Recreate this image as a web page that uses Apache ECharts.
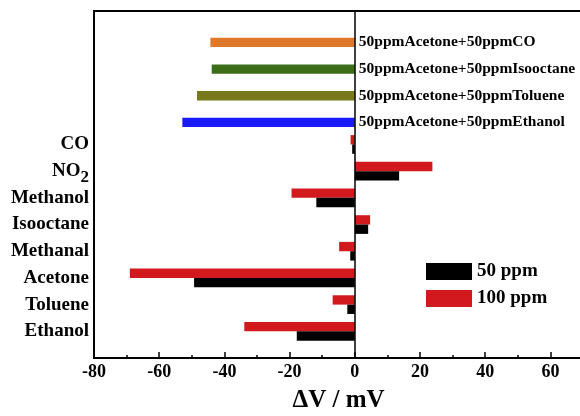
<!DOCTYPE html>
<html>
<head>
<meta charset="utf-8">
<script src="https://cdn.jsdelivr.net/npm/echarts@6/dist/echarts.min.js"></script>
<style>html,body{margin:0;padding:0;background:#fff}#c{width:580px;height:416px}</style>
</head>
<body>
<div id="c"></div>
<script>
// gases, bottom to top
const gases = ['Ethanol', 'Toluene', 'Acetone', 'Methanal', 'Isooctane', 'Methanol', 'NO2', 'CO'];
const ppm50 = [-17.8, -2.3, -49.3, -1.4, 4.1, -11.8, 13.6, -0.8];
const ppm100 = [-33.9, -6.8, -69, -4.8, 4.7, -19.4, 23.8, -1.3];
// mixtures, bottom to top
const mixtures = ['50ppmAcetone+50ppmEthanol', '50ppmAcetone+50ppmToluene', '50ppmAcetone+50ppmIsooctane', '50ppmAcetone+50ppmCO'];
const mixValues = [-52.9, -48.4, -43.9, -44.3];
const mixColors = ['#1a1afa', '#78781c', '#3c6e19', '#e0782a'];
const majorTicks = [-80, -60, -40, -20, 0, 20, 40, 60];
const minorTicks = [-70, -50, -30, -10, 10, 30, 50];

const categories = ['padBottom'].concat(gases, mixtures, ['padTop']);
const nG = gases.length;
const blankMix = mixtures.map(() => null);
const s50 = [null].concat(ppm50, blankMix, [null]);
const s100 = [null].concat(ppm100, blankMix, [null]);
const sMix = [null].concat(gases.map(() => null),
  mixValues.map((v, i) => ({ value: v, itemStyle: { color: mixColors[i] } })), [null]);

const serif = '"Liberation Serif", "Times New Roman", serif';
const chart = echarts.init(document.getElementById('c'));
chart.setOption({
  animation: false,
  backgroundColor: '#fff',
  grid: { left: 94, top: 11, right: -3, bottom: 58, outerBoundsMode: 'none', containLabel: false, show: true, borderColor: '#000', borderWidth: 2, backgroundColor: 'transparent' },
  legend: {
    data: ['50 ppm', '100 ppm'], orient: 'vertical', left: 426, top: 262, padding: 0,
    itemWidth: 46, itemHeight: 17, itemGap: 8, icon: 'rect',
    textStyle: { fontFamily: serif, fontWeight: 'bold', fontSize: 19, color: '#000' }
  },
  xAxis: [{
    type: 'value', min: -80, max: 70, position: 'bottom',
    name: 'ΔV / mV', nameLocation: 'middle', nameGap: 30,
    nameTextStyle: { fontFamily: serif, fontWeight: 'bold', fontSize: 25, color: '#000' },
    axisLine: { show: true, onZero: false, lineStyle: { color: '#000', width: 2 } },
    axisTick: { show: true, inside: true, length: 6, customValues: majorTicks, lineStyle: { color: '#000', width: 1.5 } },
    axisLabel: { customValues: majorTicks, margin: 5, fontFamily: serif, fontWeight: 'bold', fontSize: 18, color: '#000' },
    splitLine: { show: false }
  }, {
    type: 'value', min: -80, max: 70, position: 'bottom',
    axisLine: { show: false },
    axisTick: { show: true, inside: true, length: 3, customValues: minorTicks, lineStyle: { color: '#000', width: 1.5 } },
    axisLabel: { show: false },
    splitLine: { show: false }
  }],
  yAxis: {
    type: 'category', data: categories, boundaryGap: false,
    axisLine: { show: false }, axisTick: { show: false }, splitLine: { show: false },
    axisLabel: {
      interval: 0, margin: 5, fontFamily: serif, fontWeight: 'bold', fontSize: 19, color: '#000',
      formatter: function (v) {
        if (gases.indexOf(v) < 0) return '';
        if (v === 'NO2') return 'NO{sub|2}';
        return v;
      },
      rich: { sub: { fontFamily: serif, fontWeight: 'bold', fontSize: 17, color: '#000', padding: [12, 0, 0, 0] } }
    }
  },
  series: [{
    name: '100 ppm', type: 'bar', data: s100, barWidth: '35%', barGap: '0%',
    itemStyle: { color: '#d2191e' },
    markLine: {
      silent: true, symbol: ['none', 'none'], label: { show: false },
      lineStyle: { color: '#000', width: 1.5, type: 'solid' },
      data: [{ xAxis: 0 }]
    }
  }, {
    name: '50 ppm', type: 'bar', stack: 'low', data: s50, barWidth: '35%', barGap: '0%',
    itemStyle: { color: '#000' }
  }, {
    name: 'mix', type: 'bar', stack: 'low', data: sMix, barWidth: '35%', barGap: '0%',
    label: {
      show: true, position: 'right', distance: 4,
      fontFamily: serif, fontWeight: 'bold', fontSize: 15.5, color: '#000',
      formatter: function (p) { return mixtures[p.dataIndex - 1 - nG]; }
    }
  }]
});
</script>
</body>
</html>
